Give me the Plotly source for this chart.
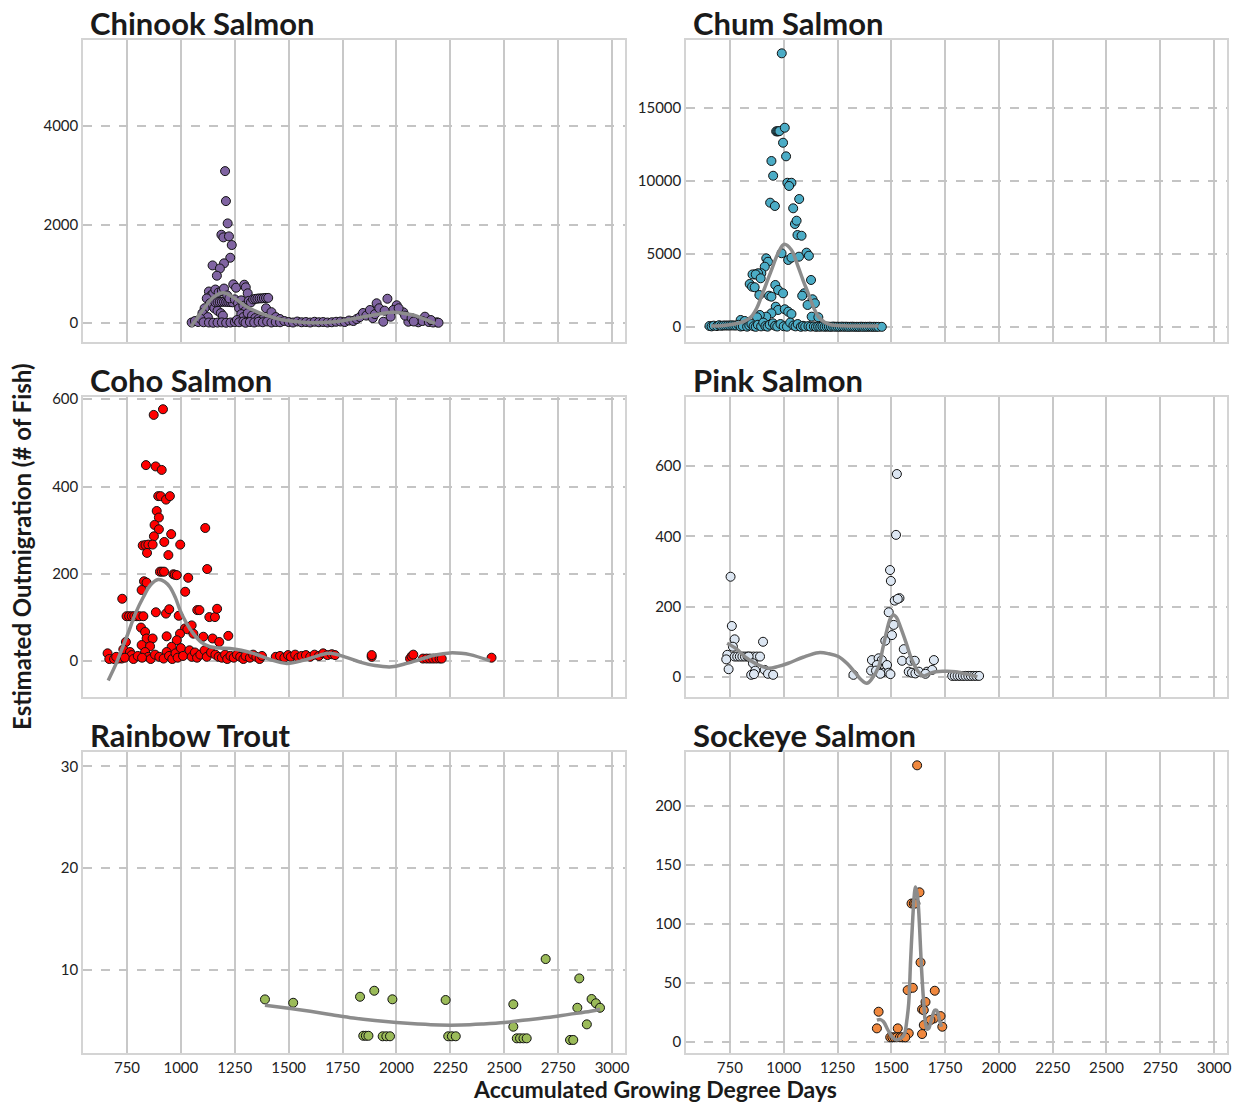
import plotly.graph_objects as go

# ---------------- data ----------------
chinook_x = [1205,1209,1217,1188,1197,1223,1236,1229,1200,1147,1181,1167,1243,1256,1294,1301,1310,
             1130,1140,1150,1160,1175,1190,1200,1120,1135,1145,1155,1170,1185,1195,1110,1100,1125,
             1160,1170,1180,1190,1200,1210,1220,1230,1240,
             1215,1225,1250,1265,1270,1280,1290,1300,1315,1325,1335,1345,1355,1365,1375,1385,1395,1405,
             1280,1290,1310,1330,1345,1360,1375,1395,1420,1440,1460,
             1050,1065,1080,1090,1105,1130,1150,1170,1190,1210,1230,1250,1260,1270,1290,1300,1320,1340,
             1360,1380,1400,1420,1440,1460,1480,1500,1520,1540,1560,1580,1600,1620,1640,1660,1680,1700,
             1720,1740,1760,1780,1800,1815,1830,1845,1860,1877,1890,1900,
             1908,1958,2001,1985,2032,1939,1973,2055,2132,2101,2187,1920,1945,2010,2040,2070,2090,2120,
             2150,2170,2195,2160,2080]
chinook_y = [3086,2477,2024,1793,1740,1760,1584,1326,1212,1170,1108,961,785,717,778,725,603,
             640,560,600,680,620,650,700,500,400,350,300,250,200,150,300,200,120,
             420,425,428,430,432,430,428,425,420,
             560,500,480,400,300,460,350,250,450,420,480,490,495,500,500,505,510,510,
             180,120,200,150,100,80,60,300,220,120,80,
             10,40,20,90,15,10,5,8,12,5,10,20,60,15,30,5,20,10,
             25,15,30,10,20,15,40,20,10,30,15,20,10,25,15,20,10,15,
             25,30,20,50,40,80,120,203,150,264,100,180,
             400,493,360,264,217,26,128,26,128,14,14,300,250,300,150,100,60,40,
             20,10,5,60,30]
chinook_fit_x = [1047,1100,1150,1197,1250,1305,1380,1460,1540,1614,1700,1769,1830,1893,1940,1985,2030,2078,2130,2179]
chinook_fit_y = [-75,250,520,615,500,331,180,75,25,6,20,61,110,162,200,217,200,162,80,-7]

chum_x = [991,965,970,975,980,1005,997,1011,943,951,1017,1036,1025,1072,937,959,1044,1052,1060,1064,1083,
          1106,1117,990,1021,1036,1071,919,927,912,896,881,865,855,870,893,842,853,865,887,932,943,961,974,
          997,1127,1095,1086,1134,1145,1111,963,974,1005,1021,1036,943,919,889,876,800,819,1130,1161,
          655,665,675,690,700,710,720,730,740,750,760,770,780,790,800,810,830,840,850,860,870,880,895,905,
          915,925,935,950,960,970,985,1000,1015,1030,1045,1055,1065,1080,1090,1100,1115,1125,1140,1150,
          1160,1170,1180,1190,1200,1210,1220,1230,1240,1250,1260,1270,1280,1290,1300,1310,1320,1330,1340,
          1350,1360,1370,1380,1390,1400,1410,1420,1430,1440,1456]
chum_y = [18747,13400,13400,13400,13420,13650,12623,11690,11370,10360,9880,9880,9660,8767,8515,8288,8130,7055,
          7280,6300,6250,5090,4880,5050,4590,4750,4815,4700,4470,4130,3680,3680,3600,3600,3600,3335,2945,2760,
          2720,2190,2140,2075,2877,2534,2308,3220,2308,2140,1897,1623,1507,1390,1164,1212,1048,890,938,705,
          822,664,480,411,705,664,
          68,40,90,60,120,80,100,100,100,100,110,100,100,150,30,60,20,100,200,50,10,150,40,300,
          60,20,150,250,80,30,200,50,20,300,100,40,200,10,80,30,60,20,40,10,
          30,15,40,10,25,20,10,30,15,20,10,25,15,20,10,15,20,10,15,
          10,20,10,15,10,20,10,15,10,10,10]
chum_fit_x = [663,720,787,820,849,875,896,920,943,974,1002,1036,1067,1090,1114,1140,1161,1190,1223,1300,1441]
chum_fit_y = [68,100,250,420,705,1300,2075,3000,3900,5050,5660,5270,4130,3200,2308,1300,705,330,137,70,68]

coho_x = [917,874,838,883,911,895,906,931,949,888,898,878,898,875,955,1113,823,836,849,869,923,843,942,997,
          1122,903,912,922,965,972,981,1034,829,841,818,1020,728,748,760,772,784,796,808,826,884,931,946,990,
          1076,1086,1132,1158,1168,
          815,834,841,869,818,857,834,849,1019,1030,1050,996,981,957,934,934,1058,1104,1147,1178,1220,745,733,
          764,772,660,668,725,710,
          690,700,740,780,800,820,860,880,900,920,945,960,975,985,1000,1010,1040,1050,1065,1075,1090,1110,
          1120,1140,1160,1175,1190,1205,1215,1230,1245,1260,1275,1290,1300,1320,1335,1350,1365,1376,1440,
          1460,1480,1497,1510,1530,1545,1560,1580,1600,1620,1640,1660,1680,1700,1715,1885,1885,2063,2070,
          2078,2123,2140,2155,2170,2185,2200,2210,2441]
coho_y = [577,564,449,446,438,378,378,370,378,344,329,312,302,286,291,305,265,266,267,267,273,248,243,267,
          211,205,205,205,199,198,197,191,183,180,163,159,143,103,103,103,103,103,103,103,112,109,119,104,
          117,117,101,101,120,
          77,67,52,52,37,34,21,10,75,73,82,63,48,33,57,21,63,56,52,44,58,44,27,
          21,14,18,5,6,6,
          5,10,8,5,12,8,5,15,10,6,12,5,18,8,30,12,25,10,20,8,15,25,
          10,20,15,10,8,15,5,12,8,15,10,5,12,8,15,10,5,12,10,
          12,8,14,10,15,8,12,14,10,15,12,18,14,16,14,10,14,6,11,
          15,6,6,6,6,6,6,6,8]
coho_fit_x = [663,700,749,790,826,860,895,925,949,975,996,1025,1058,1095,1135,1180,1228,1280,1336,1413,1491,
              1568,1645,1692,1760,1831,1900,1978,2040,2109,2180,2248,2300,2341,2434]
coho_fit_y = [-44,-5,56,110,147,175,187,182,170,145,117,88,63,43,33,30,29,25,18,4,-5,
              2,14,18,10,-2,-10,-13,-6,4,14,19,18,15,1]

pink_x = [753,759,772,764,738,733,744,772,784,796,808,820,832,845,860,875,890,904,837,857,868,849,862,912,927,
          951,1324,1526,1522,1494,1498,1516,1538,1530,1488,1511,1503,1472,1558,1550,1589,1609,1410,1441,1456,
          1433,1480,1406,1429,1456,1488,1496,1449,1581,1596,1612,1628,1666,1690,1698,1659,1783,1795,1808,
          1820,1833,1845,1858,1870,1883,1895,1908]
pink_y = [285,145,107,86,63,50,22,58,58,58,58,58,58,58,58,58,58,100,58,39,18,6,8,20,9,
          6,6,577,404,304,273,217,224,222,184,148,119,103,79,46,46,46,48,53,48,
          34,34,18,18,12,12,8,9,15,12,10,15,15,20,48,9,3,3,3,
          3,3,3,3,3,3,3,3]
pink_fit_x = [737,780,819,870,927,975,1021,1090,1161,1210,1254,1295,1332,1360,1386,1410,1441,1460,1480,1495,
              1511,1525,1542,1570,1596,1625,1651,1680,1706,1750,1799,1850,1900]
pink_fit_y = [96,80,58,38,25,30,39,56,69,66,58,38,12,-8,-18,-5,29,80,134,165,
              176,168,143,95,48,15,3,10,15,16,15,8,1]

trout_x = [1390,1521,1831,1897,1981,1846,1858,1870,1936,1953,1970,2228,2240,2257,2275,2542,2542,2558,2573,
           2589,2604,2692,2848,2839,2905,2925,2944,2883,2805,2820]
trout_y = [7.12,6.79,7.38,7.97,7.13,3.55,3.55,3.55,3.5,3.5,3.5,7.06,3.5,3.5,3.5,6.64,4.44,3.3,3.3,
           3.3,3.3,11.08,9.18,6.30,7.16,6.74,6.30,4.67,3.14,3.14]
trout_fit_x = [1390,1500,1600,1700,1800,1900,2000,2100,2200,2300,2400,2500,2600,2700,2800,2900,2944]
trout_fit_y = [6.55,6.25,5.95,5.62,5.3,5.05,4.85,4.7,4.6,4.6,4.7,4.85,5.1,5.35,5.65,5.95,6.15]

sockeye_x = [1620,1631,1594,1605,1612,1636,1576,1600,1702,1659,1643,1651,1441,1729,1698,1682,1651,1737,1433,
             1530,1581,1643,1495,1505,1515,1525,1540,1550,1565]
sockeye_y = [234.7,127,117.5,117.5,117.5,67.5,44,46,43.5,34,27.7,27,25.7,22,20,18.6,14.4,13,11.6,
             11.6,7.4,6.8,4,4,4,4,4,4,4]
sockeye_fit_x = [1433,1450,1464,1485,1503,1520,1534,1550,1562,1572,1581,1590,1600,1607,1612,1618,1624,1632,
                 1640,1650,1659,1667,1674,1688,1702,1710,1717,1725,1733]
sockeye_fit_y = [18.6,19,17.2,10,4.5,2,2.3,4,7.4,18,33,70,106,125,131.6,128,120,95,
                 64,35,15.8,11,11.6,20,27,27,24.3,18,13]

x_ticks = [750,1000,1250,1500,1750,2000,2250,2500,2750,3000]

panels = [
    ("Chinook Salmon", chinook_x, chinook_y, chinook_fit_x, chinook_fit_y, "#8064a2",
     [-386, 5750], [0, 2000, 4000]),
    ("Chum Salmon", chum_x, chum_y, chum_fit_x, chum_fit_y, "#4bacc6",
     [-1030, 19660], [0, 5000, 10000, 15000]),
    ("Coho Salmon", coho_x, coho_y, coho_fit_x, coho_fit_y, "#ff0000",
     [-82, 605], [0, 200, 400, 600]),
    ("Pink Salmon", pink_x, pink_y, pink_fit_x, pink_fit_y, "#dce6f2",
     [-57, 796], [0, 200, 400, 600]),
    ("Rainbow Trout", trout_x, trout_y, trout_fit_x, trout_fit_y, "#9bbb59",
     [1.86, 31.4], [10, 20, 30]),
    ("Sockeye Salmon", sockeye_x, sockeye_y, sockeye_fit_x, sockeye_fit_y, "#f0883e",
     [-9.3, 246], [0, 50, 100, 150, 200]),
]

# ---------------- layout geometry ----------------
W, H = 1241, 1103
col_px = [(83, 625), (686, 1227)]
row_px = [(40, 342), (397, 697), (752, 1053)]

fig = go.Figure()
layout = dict(
    width=W, height=H, margin=dict(l=0, r=0, t=0, b=0, autoexpand=False),
    paper_bgcolor="white", plot_bgcolor="white", showlegend=False,
    font=dict(family="Lato, Carlito, sans-serif", size=15, color="#222"),
)
annotations = []
for i, (name, xs, ys, fx, fy, col, yr, yt) in enumerate(panels):
    r, c = divmod(i, 2)
    n = i + 1
    xa = "x" if n == 1 else f"x{n}"
    ya = "y" if n == 1 else f"y{n}"
    x0, x1 = col_px[c]
    y0, y1 = row_px[r]
    xdom = [x0 / W, x1 / W]
    ydom = [1 - y1 / H, 1 - y0 / H]
    layout["xaxis" + ("" if n == 1 else str(n))] = dict(
        domain=xdom, anchor=ya, range=[546, 3060], tickvals=x_ticks,
        showticklabels=(r == 2), ticks="", showgrid=True, gridcolor="#c8c8c8", gridwidth=2,
        zeroline=False, showline=True, mirror=True, linecolor="#d4d4d4", linewidth=1.5,
        tickfont=dict(size=15, color="#222"),
    )
    layout["yaxis" + ("" if n == 1 else str(n))] = dict(
        domain=ydom, anchor=xa, range=yr, tickvals=yt, ticktext=[str(v) for v in yt], ticks="",
        showgrid=True, gridcolor="#c4c4c4", gridwidth=1.5, griddash="dash",
        zeroline=False, showline=True, mirror=True, linecolor="#d4d4d4", linewidth=1.5,
        tickfont=dict(size=15, color="#222"),
    )
    fig.add_trace(go.Scatter(
        x=xs, y=ys, mode="markers", xaxis=xa, yaxis=ya,
        marker=dict(size=9, color=col, line=dict(color="#111", width=1)),
        hoverinfo="skip",
    ))
    fig.add_trace(go.Scatter(
        x=fx, y=fy, mode="lines", xaxis=xa, yaxis=ya, line_shape="spline",
        line=dict(color="#8c8c8c", width=3.5), hoverinfo="skip",
    ))
    annotations.append(dict(
        text=f"<b>{name}</b>", xref="paper", yref="paper",
        x=(x0 + 6) / W, y=1 - (y0 + 3) / H, xanchor="left", yanchor="bottom",
        borderpad=0, showarrow=False,
        font=dict(size=31, color="#1a1a1a", family="Lato, sans-serif"),
    ))

annotations.append(dict(
    text="<b>Estimated Outmigration (# of Fish)</b>", xref="paper", yref="paper",
    x=22 / W, y=1 - 547 / H, xanchor="center", yanchor="middle", textangle=-90,
    showarrow=False, font=dict(size=24, color="#1a1a1a", family="Lato, sans-serif"),
))
annotations.append(dict(
    text="<b>Accumulated Growing Degree Days</b>", xref="paper", yref="paper",
    x=655 / W, y=1 - 1089 / H, xanchor="center", yanchor="middle",
    showarrow=False, font=dict(size=23, color="#1a1a1a", family="Lato, sans-serif"),
))
layout["annotations"] = annotations
fig.update_layout(**layout)
fig.write_html("out.html")
